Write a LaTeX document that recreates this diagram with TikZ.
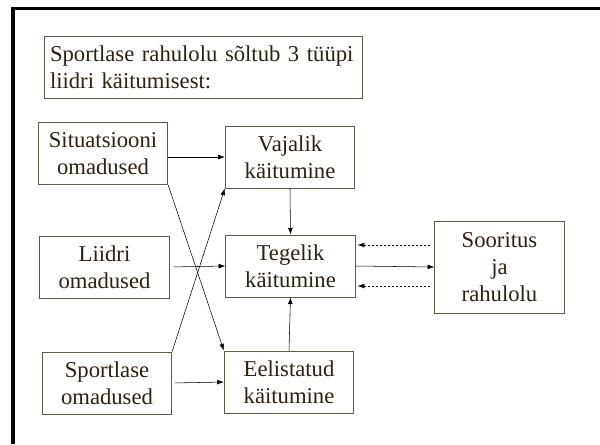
\documentclass[tikz,border=0pt]{standalone}
\usepackage{fontspec}
\setmainfont{Liberation Serif}
\usetikzlibrary{arrows.meta,calc,positioning}
\definecolor{boxline}{RGB}{98,88,72}
\definecolor{ink}{RGB}{45,34,18}
\tikzset{
    -{Latex[length=5pt,width=3.6pt]},line width=0.6pt,draw=ink,
    box/.style ={rectangle, draw=boxline, line width=0.75pt, text=ink, align=center,
        inner sep=2pt, minimum width=97pt, minimum height=46.5pt,
        font=\fontsize{17}{20}\selectfont},
    feedback/.style={dashed, dash pattern=on 2pt off 1pt, shorten <=3pt, shorten >=1.5pt},
}

\begin{document}
\begin{tikzpicture}[x=0.75pt,y=-0.75pt]
    \useasboundingbox (0,0) rectangle (600,444);
    % frame
    \draw[-, line width=2.4pt, draw=black] (13,444) -- (13,8.5) -- (600,8.5);

    % boxes
    \node (title) at (203,67) [box, align=left, inner xsep=4.5pt, text width=229.5pt]
        {Sportlase rahulolu sõltub 3 tüüpi\\liidri käitumisest:};
    \node (sit) at (103,153.5) [box] {Situatsiooni\\omadused};
    \node (lii) at (104.5,267) [box] {Liidri\\omadused};
    \node (spo) at (107,383) [box] {Sportlase\\omadused};
    \node (vaj) at (290,157) [box] {Vajalik\\käitumine};
    \node (teg) at (290.5,266) [box] {Tegelik\\käitumine};
    \node (eel) at (289,382) [box] {Eelistatud\\käitumine};
    \node (soo) at (499.5,267) [box, minimum height=69pt] {Sooritus\\ja\\rahulolu};

    % directed edges
    \path (vaj.west -| sit.east) edge (vaj.west);
    \path (lii.east) edge[shorten <=3pt] (teg.west);
    \path (spo.east) edge[shorten <=2pt] (eel.west);
    \path (sit.south east) edge (eel.north west);
    \path (spo.north east) edge (vaj.south west);
    \path (vaj.south) edge (teg.north);
    \path (eel.north) edge (teg.south);
    \path (teg.east) edge (soo.west);

    % feedback
    \path[feedback] ($(soo.west)+(0,-22)$) edge ($(teg.east)+(0,-21)$);
    \path[feedback] ($(soo.west)+(0,19)$) edge ($(teg.east)+(0,20)$);
\end{tikzpicture}
\end{document}
